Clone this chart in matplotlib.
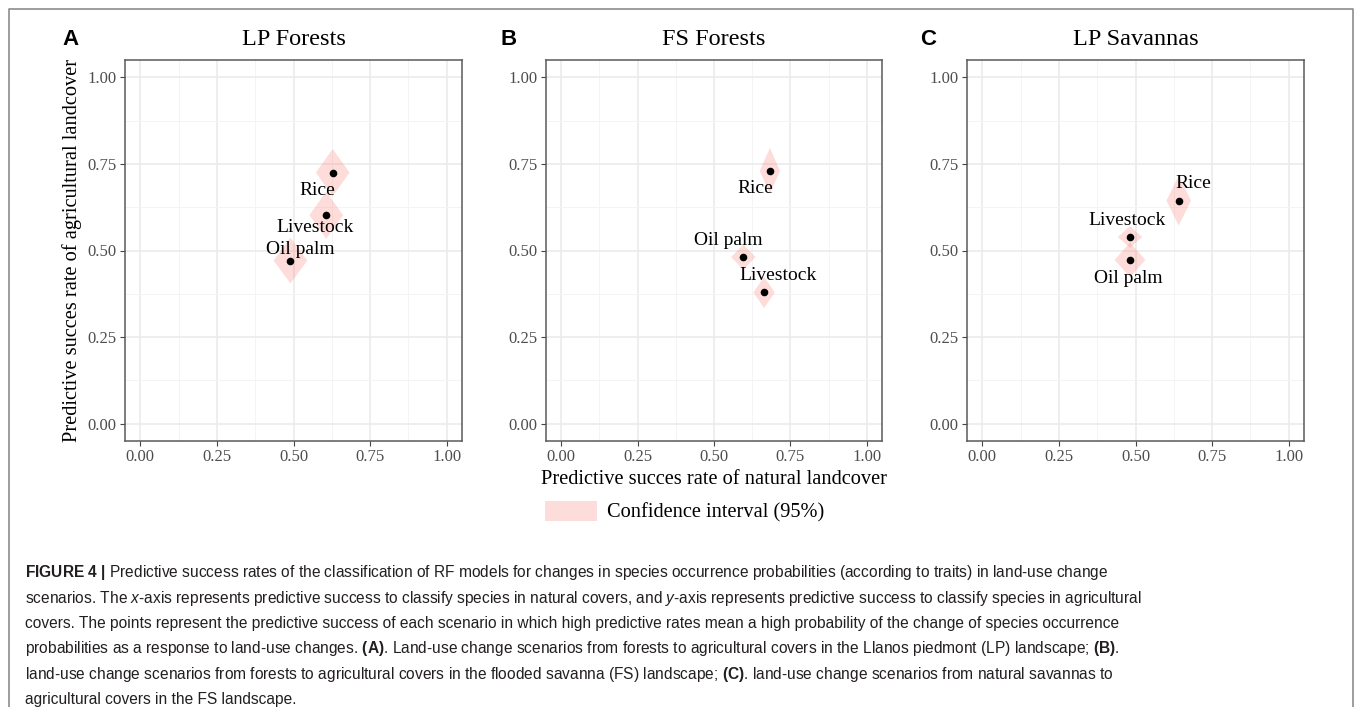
import matplotlib
matplotlib.use('Agg')
import matplotlib.pyplot as plt
import numpy as np
from matplotlib.patches import Polygon, Patch
from matplotlib.lines import Line2D

# ---------------- data ----------------
panel_titles = ["LP Forests", "FS Forests", "LP Savannas"]
panel_letters = ["A", "B", "C"]

scenarios_A = ["Rice", "Livestock", "Oil palm"]
natural_A = [0.628, 0.607, 0.490]
agri_A = [0.725, 0.602, 0.471]
ci_nat_A = [0.055, 0.055, 0.055]
ci_agr_A = [0.068, 0.068, 0.066]

scenarios_B = ["Rice", "Oil palm", "Livestock"]
natural_B = [0.683, 0.596, 0.664]
agri_B = [0.730, 0.481, 0.379]
ci_nat_B = [0.033, 0.040, 0.035]
ci_agr_B = [0.066, 0.036, 0.045]

scenarios_C = ["Rice", "Livestock", "Oil palm"]
natural_C = [0.641, 0.482, 0.482]
agri_C = [0.644, 0.539, 0.473]
ci_nat_C = [0.040, 0.040, 0.050]
ci_agr_C = [0.072, 0.031, 0.050]

tick_values = [0.0, 0.25, 0.5, 0.75, 1.0]
tick_labels = ["0.00", "0.25", "0.50", "0.75", "1.00"]

x_label = "Predictive succes rate of natural landcover"
y_label = "Predictive succes rate of agricultural landcover"
legend_label = "Confidence interval (95%)"

caption_lines = [
    r"$\mathbf{FIGURE\ 4\ |}$ Predictive success rates of the classification of RF models for changes in species occurrence probabilities (according to traits) in land-use change",
    r"scenarios. The $x$-axis represents predictive success to classify species in natural covers, and $y$-axis represents predictive success to classify species in agricultural",
    r"covers. The points represent the predictive success of each scenario in which high predictive rates mean a high probability of the change of species occurrence",
    r"probabilities as a response to land-use changes. $\mathbf{(A)}$. Land-use change scenarios from forests to agricultural covers in the Llanos piedmont (LP) landscape; $\mathbf{(B)}$.",
    r"land-use change scenarios from forests to agricultural covers in the flooded savanna (FS) landscape; $\mathbf{(C)}$. land-use change scenarios from natural savannas to",
    r"agricultural covers in the FS landscape.",
]

# ---------------- layout / style ----------------
label_offsets_A = [(-0.050, -0.051), (-0.035, -0.035), (0.033, 0.032)]
label_offsets_B = [(-0.049, -0.051), (-0.049, 0.047), (0.046, 0.048)]
label_offsets_C = [(0.046, 0.048), (-0.011, 0.049), (-0.004, -0.053)]

panels = [
    (scenarios_A, natural_A, agri_A, ci_nat_A, ci_agr_A, label_offsets_A),
    (scenarios_B, natural_B, agri_B, ci_nat_B, ci_agr_B, label_offsets_B),
    (scenarios_C, natural_C, agri_C, ci_nat_C, ci_agr_C, label_offsets_C),
]

plt.rcParams['mathtext.fontset'] = 'custom'
plt.rcParams['mathtext.rm'] = 'Liberation Sans'
plt.rcParams['mathtext.it'] = 'Liberation Sans:italic'
plt.rcParams['mathtext.bf'] = 'Liberation Sans:bold'

SERIF = 'Liberation Serif'
SANS = 'Liberation Sans'
CI_COLOR = '#F8766D'
CI_ALPHA = 0.25

W, H = 1355, 707
fig = plt.figure(figsize=(W / 100, H / 100), dpi=100)
fig.patch.set_facecolor('white')

boxes = [(125, 462), (546, 882), (967, 1304)]
top, bottom = 60, 441
letter_x = [62, 500, 920]
minor_values = [(a + b) / 2 for a, b in zip(tick_values[:-1], tick_values[1:])]

axes = []
for i, (names, xs, ys, cxs, cys, offs) in enumerate(panels):
    l, r = boxes[i]
    ax = fig.add_axes([l / W, 1 - bottom / H, (r - l) / W, (bottom - top) / H])
    axes.append(ax)
    ax.set_xlim(-0.05, 1.05)
    ax.set_ylim(-0.05, 1.05)
    ax.set_xticks(tick_values)
    ax.set_xticklabels(tick_labels)
    ax.set_yticks(tick_values)
    ax.set_yticklabels(tick_labels)
    ax.set_xticks(minor_values, minor=True)
    ax.set_yticks(minor_values, minor=True)
    ax.grid(which='major', color='#ebebeb', lw=1.2)
    ax.grid(which='minor', color='#f4f4f4', lw=0.7)
    ax.set_axisbelow(True)
    ax.tick_params(which='minor', length=0)
    ax.tick_params(which='major', length=3.6, width=0.8, color='#444444',
                   labelcolor='#4d4d4d', labelsize=12, pad=2.5)
    for lab in ax.get_xticklabels() + ax.get_yticklabels():
        lab.set_family(SERIF)
    for s in ax.spines.values():
        s.set_color('#5a5a5a')
        s.set_linewidth(1.1)

    for x, y, cx, cy in zip(xs, ys, cxs, cys):
        poly = Polygon([(x - cx, y), (x, y + cy), (x + cx, y), (x, y - cy)],
                       closed=True, facecolor=CI_COLOR, alpha=CI_ALPHA,
                       edgecolor='none', zorder=2)
        ax.add_patch(poly)
    ax.scatter(xs, ys, s=30, color='black', zorder=3, linewidths=0)
    for name, x, y, (dx, dy) in zip(names, xs, ys, offs):
        ax.text(x + dx, y + dy, name, ha='center', va='center',
                fontsize=14, family=SERIF, color='black', zorder=4)

    ax.set_title(panel_titles[i], fontsize=17.5, family=SERIF, pad=11)
    fig.text(letter_x[i] / W, 1 - 39.5 / H, panel_letters[i], fontsize=16,
             weight='bold', family=SANS, ha='left', va='center')

axes[0].set_ylabel(y_label, fontsize=14.7, family=SERIF)
axes[0].yaxis.set_label_coords(-0.128, 0.5)
axes[1].set_xlabel(x_label, fontsize=14.7, family=SERIF, va='top')
axes[1].xaxis.set_label_coords(0.5, -0.075)

fig.legend(handles=[Patch(facecolor=CI_COLOR, alpha=CI_ALPHA, edgecolor='none',
                          label=legend_label)],
           loc='center left', bbox_to_anchor=(545 / W, 1 - 511.5 / H),
           frameon=False, borderpad=0, borderaxespad=0,
           handlelength=2.55, handleheight=1.13, handletextpad=0.5,
           prop={'family': SERIF, 'size': 14.7})

# outer frame
fig.add_artist(Line2D([8.5 / W, 8.5 / W, 1353 / W, 1353 / W],
                      [0, 1 - 8.5 / H, 1 - 8.5 / H, 0],
                      transform=fig.transFigure, color='#8c8c8c', lw=1.2))

# caption
renderer = fig.canvas.get_renderer()
size0 = 10.0
probe = fig.text(0, 0, caption_lines[1], fontsize=size0, family=SANS)
w0 = probe.get_window_extent(renderer).width
probe.remove()
cap_size = size0 * (1145 - 25) / w0
for k, line in enumerate(caption_lines):
    yb = 577.3 + k * 25.4
    fig.text(25 / W, 1 - yb / H, line, fontsize=cap_size, family=SANS,
             color='#231f20', ha='left', va='baseline')

fig.savefig('out.png', dpi=100, facecolor='white')
